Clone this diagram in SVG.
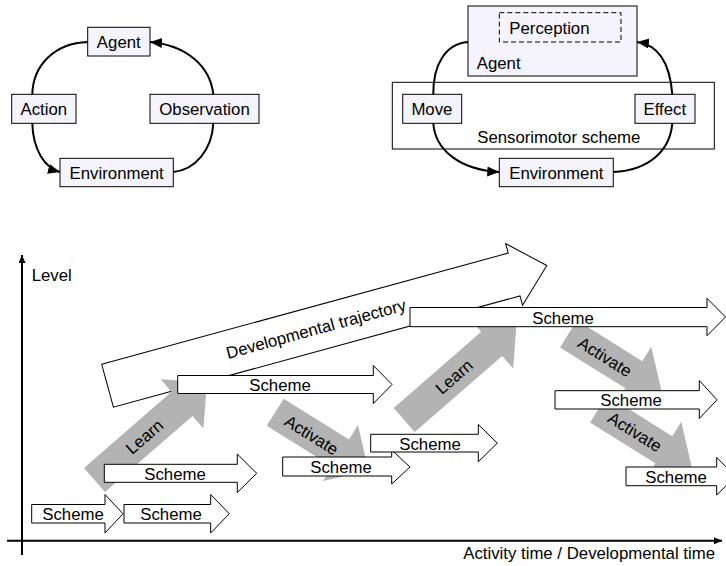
<svg xmlns="http://www.w3.org/2000/svg" width="726" height="566" viewBox="0 0 726 566">
<defs>
<style>
.t{font-family:"Liberation Sans",Arial,sans-serif;font-size:16.8px;fill:#000}
.m{text-anchor:middle}
.box{fill:#f5f4fc;stroke:#000;stroke-width:1}
.curve{fill:none;stroke:#000;stroke-width:2}
.sch{fill:#fff;stroke:#000;stroke-width:1;stroke-linejoin:miter}
.grey{fill:#b3b3b3;stroke:none}
.axis{fill:none;stroke:#000;stroke-width:2}
</style>
<marker id="ah" markerUnits="userSpaceOnUse" markerWidth="14" markerHeight="12" refX="12" refY="5" orient="auto"><path d="M0,0 L12,5 L0,10 z" fill="#000"/></marker>
<marker id="ax" markerUnits="userSpaceOnUse" markerWidth="10" markerHeight="8" refX="8" refY="3.5" orient="auto"><path d="M0,0 L8,3.5 L0,7 z" fill="#000"/></marker>
<polygon id="learnShape" points="0,-16 116,-16 116,-32.6 149,0 116,32.6 116,16 0,16"/>
<polygon id="actShape" points="0,-16 77,-16 77,-33 110,0 77,33 77,16 0,16"/>
</defs>
<rect width="726" height="566" fill="#fff"/>

<!-- Top-left cycle -->
<g id="connectors-left">
<path class="curve" d="M87.7,42 C55,43 33,65 32.3,94.3"/>
<path class="curve" d="M32.3,123.3 C33,150 45,168 60,172" marker-end="url(#ah)"/>
<path class="curve" d="M173.3,172 C195,170 212,150 213.3,123.3"/>
<path class="curve" d="M213.3,94.3 C210,65 185,45 150,42" marker-end="url(#ah)"/>
</g>
<g id="agent1"><rect class="box" x="87.7" y="27.3" width="62.3" height="28.7"/><text class="t m" x="118.8" y="48">Agent</text></g>
<g id="action1"><rect class="box" x="11.7" y="94.3" width="64.3" height="29"/><text class="t m" x="43.8" y="115">Action</text></g>
<g id="observation1"><rect class="box" x="150" y="94.3" width="109" height="29"/><text class="t m" x="204.5" y="115">Observation</text></g>
<g id="environment1"><rect class="box" x="60" y="158.3" width="113.3" height="28.4"/><text class="t m" x="116.7" y="178.5">Environment</text></g>

<!-- Top-right cycle -->
<g id="sensorimotor"><rect x="392.3" y="82.3" width="322" height="66.7" fill="#fff" stroke="#000" stroke-width="1"/><text class="t m" x="558.8" y="143">Sensorimotor scheme</text></g>
<g id="connectors-right">
<path class="curve" d="M468,42 C445,44 433,65 433.3,94.3"/>
<path class="curve" d="M433.3,123.3 C435,150 460,170 499.3,172" marker-end="url(#ah)"/>
<path class="curve" d="M613.3,172 C650,170 670,150 672.3,123.3"/>
<path class="curve" d="M672.3,94.3 C670,65 660,45 637,42" marker-end="url(#ah)"/>
</g>
<g id="agent2"><rect class="box" x="468" y="6" width="169" height="70"/><text class="t" x="476.7" y="68.5">Agent</text></g>
<g id="perception"><rect x="499.3" y="12.7" width="121.7" height="29.3" fill="#f5f4fc" stroke="#000" stroke-width="1" stroke-dasharray="5,3"/><text class="t" x="509.3" y="33.5">Perception</text></g>
<g id="move"><rect class="box" x="402.7" y="94.3" width="59" height="29"/><text class="t m" x="431.9" y="115">Move</text></g>
<g id="effect"><rect class="box" x="635" y="94.3" width="60" height="29"/><text class="t m" x="664.8" y="115">Effect</text></g>
<g id="environment2"><rect class="box" x="499.3" y="158.3" width="114" height="28.4"/><text class="t m" x="556.3" y="178.5">Environment</text></g>

<!-- Bottom chart -->
<g id="axes">
<path class="axis" d="M22,555 L22,255" marker-end="url(#ax)"/>
<path class="axis" d="M7,540.7 L722,540.7" marker-end="url(#ax)"/>
<text class="t" x="31.7" y="281">Level</text>
<text class="t" x="715" y="559" text-anchor="end">Activity time / Developmental time</text>
</g>

<g id="trajectory" transform="translate(101.7,364.3) rotate(-15.3)">
<polygon class="sch" points="0,0 421.5,0 421.5,-9.8 455.4,22.2 421.5,54.2 421.5,44.4 0,44.4"/>
<text class="t m" x="216" y="28.2">Developmental trajectory</text>
</g>

<g id="learn1" transform="translate(94.5,480) rotate(-41)"><use href="#learnShape" class="grey"/><text class="t m" x="66" y="6">Learn</text></g>
<g id="learn2" transform="translate(404.2,420) rotate(-41)"><use href="#learnShape" class="grey"/><text class="t m" x="66" y="6">Learn</text></g>
<g id="activate1" transform="translate(275.2,412.2) rotate(32)"><use href="#actShape" class="grey"/><text class="t m" x="43" y="6">Activate</text></g>
<g id="activate2" transform="translate(568.5,333.9) rotate(32)"><use href="#actShape" class="grey"/><text class="t m" x="43" y="6">Activate</text></g>
<g id="activate3" transform="translate(598.5,408.9) rotate(32)"><use href="#actShape" class="grey"/><text class="t m" x="43" y="6">Activate</text></g>

<g id="scheme1"><polygon class="sch" points="31.7,504.5 105,504.5 105,494.5 123,513.75 105,533 105,523 31.7,523"/><text class="t m" x="73" y="520.3">Scheme</text></g>
<g id="scheme2"><polygon class="sch" points="124,504.5 210.7,504.5 210.7,494.5 229.3,513.75 210.7,533 210.7,523 124,523"/><text class="t m" x="171" y="520.3">Scheme</text></g>
<g id="scheme3"><polygon class="sch" points="104.3,464.3 237.3,464.3 237.3,454 256.7,473.3 237.3,492.5 237.3,482.3 104.3,482.3"/><text class="t m" x="175" y="479.8">Scheme</text></g>
<g id="scheme4"><polygon class="sch" points="177.7,375.5 373.3,375.5 373.3,365.5 392,384.5 373.3,403.5 373.3,393.5 177.7,393.5"/><text class="t m" x="280" y="391">Scheme</text></g>
<g id="scheme5"><polygon class="sch" points="282.7,457 391.7,457 391.7,450 410,467 391.7,484 391.7,476 282.7,476"/><text class="t m" x="341" y="473">Scheme</text></g>
<g id="scheme6"><polygon class="sch" points="370.7,434.3 478.3,434.3 478.3,424.5 497.3,443.2 478.3,461.8 478.3,452 370.7,452"/><text class="t m" x="430" y="449.7">Scheme</text></g>
<g id="scheme7"><polygon class="sch" points="410,307.5 707,307.5 707,298.3 725.5,317 707,335.7 707,326.7 410,326.7"/><text class="t m" x="563" y="323.5">Scheme</text></g>
<g id="scheme8"><polygon class="sch" points="555,390.7 699.3,390.7 699.3,380.5 717,399.8 699.3,418.5 699.3,409 555,409"/><text class="t m" x="631" y="406.3">Scheme</text></g>
<g id="scheme9"><polygon class="sch" points="626,467 716.7,467 716.7,457.5 735.5,476.3 716.7,495 716.7,485.7 626,485.7"/><text class="t m" x="676" y="482.8">Scheme</text></g>
</svg>
